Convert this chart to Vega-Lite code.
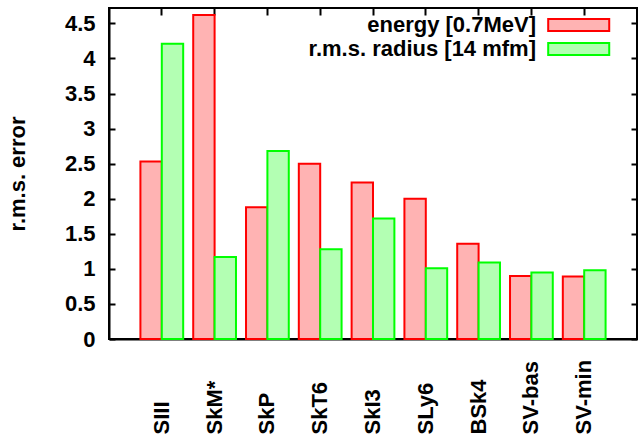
{
  "$schema": "https://vega.github.io/schema/vega-lite/v6.json",
  "width": 528,
  "height": 331,
  "autosize": {"type": "none"},
  "padding": {"left": 109, "top": 8, "right": 1, "bottom": 98},
  "config": {
    "font": "Liberation Sans",
    "view": {"stroke": "black", "strokeWidth": 2},
    "axis": {
      "grid": false,
      "labelFont": "Liberation Sans",
      "labelFontWeight": "bold",
      "labelFontSize": 22,
      "labelColor": "black",
      "titleFont": "Liberation Sans",
      "titleFontWeight": "bold",
      "titleFontSize": 22,
      "titleColor": "black",
      "tickColor": "black",
      "tickWidth": 2,
      "domainColor": "black",
      "domainWidth": 2,
      "zindex": 1
    },
    "legend": {
      "orient": "none",
      "legendX": 405,
      "legendY": 6,
      "padding": 0,
      "labelFont": "Liberation Sans",
      "labelFontSize": 22,
      "labelFontWeight": "bold",
      "labelColor": "black",
      "labelLimit": 400,
      "labelOffset": 0,
      "labelAlign": "right",
      "rowPadding": 2,
      "symbolType": "M3.8,-1H13.8V1H3.8Z",
      "symbolSize": 149,
      "symbolStrokeWidth": 2,
      "symbolOpacity": 1
    }
  },
  "data": {
    "values": [
      {"model": "SIII", "series": "energy [0.7MeV]", "value": 2.53},
      {"model": "SIII", "series": "r.m.s. radius [14 mfm]", "value": 4.21},
      {"model": "SkM*", "series": "energy [0.7MeV]", "value": 4.62},
      {"model": "SkM*", "series": "r.m.s. radius [14 mfm]", "value": 1.17},
      {"model": "SkP", "series": "energy [0.7MeV]", "value": 1.88},
      {"model": "SkP", "series": "r.m.s. radius [14 mfm]", "value": 2.68},
      {"model": "SkT6", "series": "energy [0.7MeV]", "value": 2.50},
      {"model": "SkT6", "series": "r.m.s. radius [14 mfm]", "value": 1.28},
      {"model": "SkI3", "series": "energy [0.7MeV]", "value": 2.23},
      {"model": "SkI3", "series": "r.m.s. radius [14 mfm]", "value": 1.72},
      {"model": "SLy6", "series": "energy [0.7MeV]", "value": 2.00},
      {"model": "SLy6", "series": "r.m.s. radius [14 mfm]", "value": 1.01},
      {"model": "BSk4", "series": "energy [0.7MeV]", "value": 1.36},
      {"model": "BSk4", "series": "r.m.s. radius [14 mfm]", "value": 1.09},
      {"model": "SV-bas", "series": "energy [0.7MeV]", "value": 0.90},
      {"model": "SV-bas", "series": "r.m.s. radius [14 mfm]", "value": 0.95},
      {"model": "SV-min", "series": "energy [0.7MeV]", "value": 0.89},
      {"model": "SV-min", "series": "r.m.s. radius [14 mfm]", "value": 0.98}
    ]
  },
  "resolve": {"axis": {"x": "independent", "y": "independent"}},
  "layer": [
    {
      "mark": {"type": "bar", "strokeWidth": 2},
      "encoding": {
        "x": {
          "field": "model",
          "type": "nominal",
          "sort": ["SIII", "SkM*", "SkP", "SkT6", "SkI3", "SLy6", "BSk4", "SV-bas", "SV-min"],
          "scale": {"paddingInner": 0.19, "paddingOuter": 0.595},
          "axis": {
            "orient": "bottom",
            "title": null,
            "labelAngle": 270,
            "labelAlign": "left",
            "labelBaseline": "middle",
            "labelPadding": 95,
            "ticks": false
          }
        },
        "xOffset": {
          "field": "series",
          "type": "nominal",
          "scale": {"paddingInner": 0, "paddingOuter": 0}
        },
        "y": {
          "field": "value",
          "type": "quantitative",
          "scale": {"domain": [0, 4.72], "nice": false, "zero": true},
          "axis": {
            "orient": "left",
            "title": "r.m.s. error",
            "values": [0, 0.5, 1, 1.5, 2, 2.5, 3, 3.5, 4, 4.5],
            "format": "~g",
            "tickSize": -6,
            "labelPadding": 20,
            "titleX": -92,
            "titleY": 165.5,
            "titleAngle": 270,
            "titleBaseline": "middle",
            "titleAlign": "center"
          }
        },
        "fill": {
          "field": "series",
          "type": "nominal",
          "scale": {"domain": ["energy [0.7MeV]", "r.m.s. radius [14 mfm]"], "range": ["#FFB3B3", "#B3FFB3"]},
          "legend": {"title": null}
        },
        "stroke": {
          "field": "series",
          "type": "nominal",
          "scale": {"domain": ["energy [0.7MeV]", "r.m.s. radius [14 mfm]"], "range": ["#FF0000", "#00FF00"]},
          "legend": {"title": null}
        }
      }
    },
    {
      "mark": {"type": "bar", "opacity": 0},
      "encoding": {
        "x": {
          "field": "model",
          "type": "nominal",
          "sort": ["SIII", "SkM*", "SkP", "SkT6", "SkI3", "SLy6", "BSk4", "SV-bas", "SV-min"],
          "axis": {"orient": "top", "title": null, "labels": false, "domain": false, "tickSize": -7}
        },
        "y": {
          "field": "value",
          "type": "quantitative",
          "axis": {
            "orient": "right",
            "title": null,
            "labels": false,
            "domain": false,
            "values": [0, 0.5, 1, 1.5, 2, 2.5, 3, 3.5, 4, 4.5],
            "tickSize": -6
          }
        }
      }
    }
  ]
}
